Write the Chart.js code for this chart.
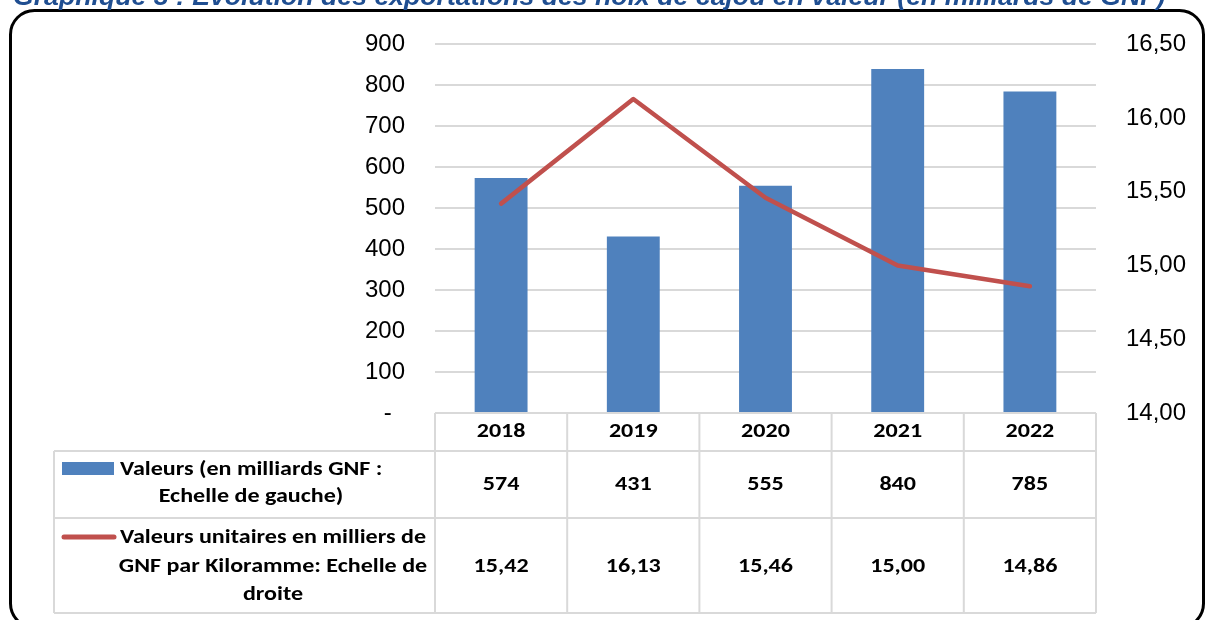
<!DOCTYPE html>
<html><head><meta charset="utf-8">
<script src="https://cdn.jsdelivr.net/npm/chart.js@4/dist/chart.umd.min.js"></script>
<style>html,body{margin:0;padding:0;background:#fff;overflow:hidden}#wrap{width:1208px;height:620px;position:relative}</style>
</head><body><div id="wrap"><canvas id="c" width="1208" height="620"></canvas></div>
<script>
const categories = ['2018', '2019', '2020', '2021', '2022'];
const valeurs = [574, 431, 555, 840, 785];
const valeursUnitaires = [15.42, 16.13, 15.46, 15.00, 14.86];
const valeursLabels = ['574', '431', '555', '840', '785'];
const unitairesLabels = ['15,42', '16,13', '15,46', '15,00', '14,86'];
const leftAxis = { min: 0, max: 900, step: 100 };
const rightAxis = { min: 14, max: 16.5, step: 0.5 };
const titleText = 'Graphique 3 : Evolution des exportations des noix de cajou en valeur (en milliards de GNF)';
const legendBar = ['Valeurs (en milliards GNF :', 'Echelle de gauche)'];
const legendLine = ['Valeurs unitaires en milliers de', 'GNF par Kiloramme: Echelle de', 'droite'];

const BLUE = '#4F81BD', RED = '#C0504D', GRID = '#D9D9D9';
const TICKFONT = "'Liberation Sans', Arial, sans-serif";
const TABFONT = "Carlito, 'Liberation Sans Narrow', 'Arial Narrow', 'Liberation Sans', sans-serif";

const tablePlugin = {
  id: 'tablePlugin',
  afterDraw(chart) {
    const ctx = chart.ctx;
    const ca = chart.chartArea;
    const xs = chart.scales.x;
    const half = (xs.getPixelForValue(1) - xs.getPixelForValue(0)) / 2;
    const cols = [];
    for (let i = 0; i <= categories.length; i++) cols.push(xs.getPixelForValue(0) - half + i * 2 * half);
    const right = cols[cols.length - 1];
    const legL = 54, yTop = ca.bottom, yHead = 451, yR1 = 518, yR2 = 613;

    ctx.save();
    ctx.strokeStyle = GRID; ctx.lineWidth = 2;
    ctx.beginPath();
    ctx.moveTo(cols[0], yTop); ctx.lineTo(right, yTop);
    [yHead, yR1, yR2].forEach(y => { ctx.moveTo(legL, y); ctx.lineTo(right, y); });
    ctx.moveTo(legL, yHead); ctx.lineTo(legL, yR2);
    cols.forEach(x => { ctx.moveTo(x, yTop); ctx.lineTo(x, yR2); });
    ctx.stroke();

    ctx.fillStyle = '#000';
    ctx.font = 'bold 21px ' + TABFONT;
    const meas = ctx.measureText(legendLine[0]).width;
    const sx = Math.min(1.3, Math.max(0.6, 306 / meas));
    function txt(t, x, y, align) {
      const w = ctx.measureText(t).width * sx;
      let x0 = x;
      if (align === 'center') x0 = x - w / 2;
      ctx.save();
      ctx.translate(x0, y);
      ctx.scale(sx, 1);
      ctx.textAlign = 'left'; ctx.textBaseline = 'middle';
      ctx.fillText(t, 0, 0);
      ctx.restore();
    }
    categories.forEach((c, i) => {
      const cx = xs.getPixelForValue(i);
      txt(c, cx, 432, 'center');
      txt(valeursLabels[i], cx, 485, 'center');
      txt(unitairesLabels[i], cx, 567, 'center');
    });
    // legend keys
    ctx.fillStyle = BLUE;
    ctx.fillRect(62, 462, 52, 13);
    ctx.strokeStyle = RED; ctx.lineWidth = 5; ctx.lineCap = 'round';
    ctx.beginPath(); ctx.moveTo(64, 537); ctx.lineTo(114, 537); ctx.stroke();
    ctx.fillStyle = '#000';
    txt(legendBar[0], 120, 470, 'left');
    txt(legendBar[1], 251, 497, 'center');
    txt(legendLine[0], 273, 538, 'center');
    txt(legendLine[1], 273, 567, 'center');
    txt(legendLine[2], 273, 595, 'center');

    // outer rounded frame
    ctx.strokeStyle = '#000'; ctx.lineWidth = 3; ctx.lineCap = 'butt';
    ctx.beginPath();
    ctx.roundRect(10.5, 10.5, 1193, 617, 24);
    ctx.stroke();

    // title (partly cut off at the top)
    ctx.fillStyle = '#1F4E91';
    let fs = 22;
    ctx.font = 'italic bold ' + fs + 'px ' + TICKFONT;
    fs = fs * 1153 / ctx.measureText(titleText).width;
    ctx.font = 'italic bold ' + fs.toFixed(2) + 'px ' + TICKFONT;
    ctx.textAlign = 'left'; ctx.textBaseline = 'alphabetic';
    ctx.fillText(titleText, 13, 5);
    ctx.restore();
  }
};

new Chart(document.getElementById('c'), {
  data: {
    labels: categories,
    datasets: [
      {
        type: 'line', label: legendLine.join(' '), data: valeursUnitaires, yAxisID: 'y1',
        borderColor: RED, borderWidth: 4.5, pointRadius: 0, tension: 0,
        borderCapStyle: 'round', borderJoinStyle: 'round', fill: false, order: 1
      },
      {
        type: 'bar', label: legendBar.join(' '), data: valeurs, yAxisID: 'y',
        backgroundColor: BLUE, borderWidth: 0, barPercentage: 0.4, categoryPercentage: 1, order: 2
      }
    ]
  },
  options: {
    responsive: false, animation: false, devicePixelRatio: 1,
    layout: { padding: { top: 37.5, bottom: 207, left: 0, right: 0 } },
    plugins: { legend: { display: false }, tooltip: { enabled: false }, title: { display: false } },
    scales: {
      x: { display: false, offset: true, grid: { display: false } },
      y: {
        position: 'left', min: leftAxis.min, max: leftAxis.max,
        ticks: { stepSize: leftAxis.step, padding: 30, color: '#000', font: { family: TICKFONT, size: 24 },
          callback: v => v === 0 ? '-  ' : String(v) },
        grid: { color: GRID, lineWidth: 2, drawTicks: false },
        border: { display: false },
        afterFit: s => { s.width = 435; }
      },
      y1: {
        position: 'right', min: rightAxis.min, max: rightAxis.max,
        ticks: { stepSize: rightAxis.step, padding: 30, color: '#000', font: { family: TICKFONT, size: 24 },
          callback: v => Number(v).toFixed(2).replace('.', ',') },
        grid: { display: false, drawTicks: false },
        border: { display: false },
        afterFit: s => { s.width = 112; }
      }
    }
  },
  plugins: [tablePlugin]
});
</script>
</body></html>
